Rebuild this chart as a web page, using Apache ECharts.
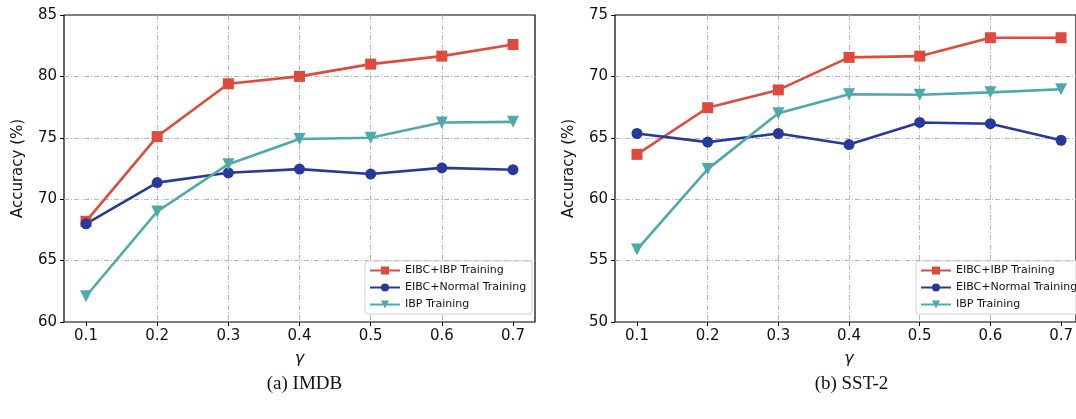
<!DOCTYPE html>
<html>
<head>
<meta charset="utf-8">
<script src="https://cdn.jsdelivr.net/npm/echarts@6/dist/echarts.min.js"></script>
<style>
  html, body { margin: 0; padding: 0; background: #fff; }
  #chart { width: 1076px; height: 419px; }
</style>
</head>
<body>
<div id="chart"></div>
<script>
const gammas = [0.1, 0.2, 0.3, 0.4, 0.5, 0.6, 0.7];

// IMDB
const imdbEibcIbp = [68.2, 75.1, 79.4, 80.0, 81.0, 81.65, 82.6];
const imdbEibcNormal = [68.0, 71.35, 72.15, 72.45, 72.05, 72.55, 72.4];
const imdbIbp = [62.1, 69.0, 72.85, 74.9, 75.0, 76.25, 76.3];

// SST-2
const sstEibcIbp = [63.65, 67.45, 68.9, 71.55, 71.65, 73.15, 73.15];
const sstEibcNormal = [65.35, 64.65, 65.35, 64.45, 66.25, 66.15, 64.8];
const sstIbp = [55.9, 62.45, 67.0, 68.55, 68.5, 68.7, 68.95];

const seriesNames = ['EIBC+IBP Training', 'EIBC+Normal Training', 'IBP Training'];
const colors = ['#df4a3f', '#27399a', '#4ea9ab'];
const symbols = ['rect', 'circle', 'triangle'];
const symbolSizes = [11, 11, 12];
const captions = ['(a) IMDB', '(b) SST-2'];

const font = 'DejaVu Sans';
const gridLine = { show: true, showMinLine: false, showMaxLine: false,
    lineStyle: { color: '#b8b8b8', width: 1, type: [5, 2, 1, 2] } };

const pair = (ys) => gammas.map((g, i) => [g, ys[i]]);

const panels = [
    { left: 64, data: [imdbEibcIbp, imdbEibcNormal, imdbIbp], yMin: 60, yMax: 85, caption: captions[0] },
    { left: 615, data: [sstEibcIbp, sstEibcNormal, sstIbp], yMin: 50, yMax: 75, caption: captions[1] }
];

const grids = [], xAxes = [], yAxes = [], series = [], legends = [], titles = [];
const plotTop = 15, plotHeight = 307, frameWidth = 471, inset = 22, dataWidth = 427;

panels.forEach((p, k) => {
    const fi = k * 2, di = k * 2 + 1;
    // frame grid: full box, y ticks and horizontal grid lines
    grids.push({ left: p.left, top: plotTop, width: frameWidth, height: plotHeight, show: true,
        borderColor: '#000', borderWidth: 1.2, backgroundColor: 'transparent' });
    // data grid: spans gamma 0.1 .. 0.7
    grids.push({ left: p.left + inset, top: plotTop, width: dataWidth, height: plotHeight });

    xAxes.push({ gridIndex: fi, type: 'value', min: 0, max: 1, show: false });
    xAxes.push({ gridIndex: di, type: 'value', min: 0.1, max: 0.7, interval: 0.1,
        axisLine: { show: false },
        axisTick: { show: true, inside: false, length: 4, lineStyle: { color: '#000' } },
        axisLabel: { fontFamily: font, fontSize: 15, color: '#111', margin: 7,
            formatter: (v) => v.toFixed(1) },
        splitLine: gridLine,
        name: 'γ', nameLocation: 'middle', nameGap: 29,
        nameTextStyle: { fontFamily: font, fontSize: 16, fontStyle: 'italic', color: '#111' } });

    yAxes.push({ gridIndex: fi, type: 'value', min: p.yMin, max: p.yMax, interval: 5,
        axisLine: { show: false },
        axisTick: { show: true, inside: false, length: 4, lineStyle: { color: '#000' } },
        axisLabel: { fontFamily: font, fontSize: 15, color: '#111', margin: 7 },
        splitLine: gridLine,
        name: 'Accuracy (%)', nameLocation: 'middle', nameGap: 38,
        nameTextStyle: { fontFamily: font, fontSize: 15, color: '#111' } });
    yAxes.push({ gridIndex: di, type: 'value', min: p.yMin, max: p.yMax, show: false });

    p.data.forEach((ys, s) => {
        series.push({
            type: 'line', name: seriesNames[s], xAxisIndex: di, yAxisIndex: di,
            data: pair(ys), clip: false,
            symbol: symbols[s], symbolSize: symbolSizes[s],
            symbolRotate: s === 2 ? 180 : 0,
            itemStyle: { color: colors[s] },
            lineStyle: { color: colors[s], width: 2.6 },
            emphasis: { disabled: true },
            animation: false
        });
    });

    legends.push({
        data: seriesNames, orient: 'vertical',
        left: p.left + 301, top: 261,
        itemWidth: 30, itemHeight: 10, itemGap: 6,
        padding: [4, 6, 4, 4],
        backgroundColor: 'rgba(255,255,255,0.85)',
        borderColor: '#d0d0d0', borderWidth: 1, borderRadius: 3,
        textStyle: { fontFamily: font, fontSize: 11, color: '#111' }
    });

    titles.push({ text: p.caption, left: p.left + frameWidth / 2 - (k === 1 ? 4 : 0), top: 370,
        textAlign: 'center',
        textStyle: { fontFamily: 'Liberation Serif', fontSize: 19, fontWeight: 'normal', color: '#111' } });
});

const chart = echarts.init(document.getElementById('chart'), null, { renderer: 'canvas' });
chart.setOption({
    animation: false,
    title: titles,
    grid: grids,
    xAxis: xAxes,
    yAxis: yAxes,
    legend: legends,
    series: series
});
</script>
</body>
</html>
